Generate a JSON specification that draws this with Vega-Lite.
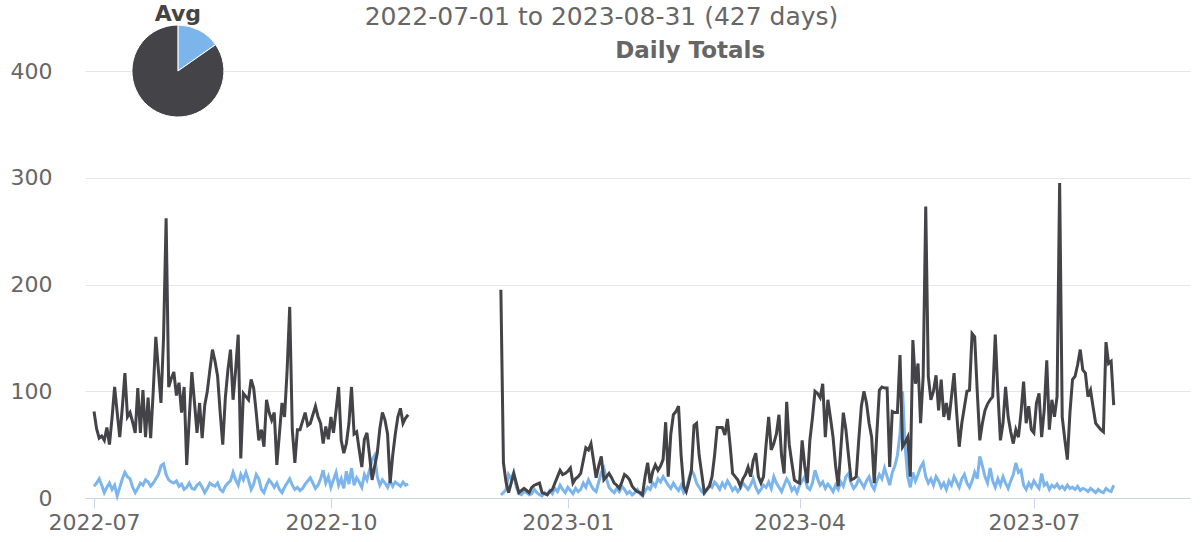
{
 "$schema": "https://vega.github.io/schema/vega-lite/v6.json",
 "width": 1105,
 "height": 427,
 "autosize": {"type": "none"},
 "padding": {"left": 85, "top": 71, "right": 12, "bottom": 44},
 "background": "#ffffff",
 "title": {"text": "2022-07-01 to 2023-08-31 (427 days)", "anchor": "middle", "frame": "group", "dx": -36, "offset": -27, "fontSize": 25, "fontWeight": "normal", "color": "#666666", "font": "DejaVu Sans"},
 "config": {
  "view": {"stroke": null},
  "font": "DejaVu Sans",
  "axisX": {"domainColor": "#ccd6eb", "tickColor": "#ccd6eb", "tickSize": 10, "labelFontSize": 22, "labelColor": "#666666", "labelFont": "DejaVu Sans", "grid": false, "title": null, "labelPadding": 4, "labelFlush": false, "labelOverlap": false},
  "axisY": {"domain": false, "ticks": false, "gridColor": "#e6e6e6", "labelFontSize": 22, "labelColor": "#666666", "labelFont": "DejaVu Sans", "labelPadding": 33, "title": null}
 },
 "datasets": {
  "daily": [
{"d":"2022-07-01","a":81,"b":11},{"d":"2022-07-02","a":65,"b":14},{"d":"2022-07-03","a":56,"b":18},{"d":"2022-07-04","a":58,"b":12},{"d":"2022-07-05","a":54,"b":5},{"d":"2022-07-06","a":66,"b":10},{"d":"2022-07-07","a":50,"b":14},{"d":"2022-07-08","a":75,"b":8},{"d":"2022-07-09","a":104,"b":12},{"d":"2022-07-10","a":80,"b":2},
{"d":"2022-07-11","a":57,"b":10},{"d":"2022-07-12","a":85,"b":18},{"d":"2022-07-13","a":117,"b":24},{"d":"2022-07-14","a":76,"b":20},{"d":"2022-07-15","a":80,"b":18},{"d":"2022-07-16","a":71,"b":10},{"d":"2022-07-17","a":61,"b":5},{"d":"2022-07-18","a":103,"b":9},{"d":"2022-07-19","a":61,"b":14},{"d":"2022-07-20","a":101,"b":12},
{"d":"2022-07-21","a":57,"b":17},{"d":"2022-07-22","a":94,"b":15},{"d":"2022-07-23","a":56,"b":11},{"d":"2022-07-24","a":100,"b":14},{"d":"2022-07-25","a":151,"b":18},{"d":"2022-07-26","a":120,"b":22},{"d":"2022-07-27","a":89,"b":30},{"d":"2022-07-28","a":150,"b":32},{"d":"2022-07-29","a":262,"b":22},{"d":"2022-07-30","a":104,"b":17},{"d":"2022-07-31","a":112,"b":15},
{"d":"2022-08-01","a":118,"b":14},{"d":"2022-08-02","a":96,"b":16},{"d":"2022-08-03","a":108,"b":11},{"d":"2022-08-04","a":80,"b":13},{"d":"2022-08-05","a":104,"b":8},{"d":"2022-08-06","a":31,"b":10},{"d":"2022-08-07","a":75,"b":14},{"d":"2022-08-08","a":118,"b":9},{"d":"2022-08-09","a":90,"b":8},{"d":"2022-08-10","a":61,"b":12},
{"d":"2022-08-11","a":89,"b":14},{"d":"2022-08-12","a":56,"b":10},{"d":"2022-08-13","a":87,"b":5},{"d":"2022-08-14","a":100,"b":9},{"d":"2022-08-15","a":120,"b":14},{"d":"2022-08-16","a":139,"b":12},{"d":"2022-08-17","a":128,"b":11},{"d":"2022-08-18","a":114,"b":14},{"d":"2022-08-19","a":80,"b":8},{"d":"2022-08-20","a":50,"b":6},
{"d":"2022-08-21","a":94,"b":11},{"d":"2022-08-22","a":120,"b":14},{"d":"2022-08-23","a":139,"b":16},{"d":"2022-08-24","a":92,"b":24},{"d":"2022-08-25","a":120,"b":17},{"d":"2022-08-26","a":153,"b":12},{"d":"2022-08-27","a":37,"b":22},{"d":"2022-08-28","a":98,"b":17},{"d":"2022-08-29","a":95,"b":24},{"d":"2022-08-30","a":92,"b":17},{"d":"2022-08-31","a":111,"b":8},
{"d":"2022-09-01","a":103,"b":13},{"d":"2022-09-02","a":80,"b":22},{"d":"2022-09-03","a":54,"b":18},{"d":"2022-09-04","a":64,"b":8},{"d":"2022-09-05","a":48,"b":5},{"d":"2022-09-06","a":92,"b":12},{"d":"2022-09-07","a":80,"b":17},{"d":"2022-09-08","a":73,"b":14},{"d":"2022-09-09","a":80,"b":10},{"d":"2022-09-10","a":31,"b":14},
{"d":"2022-09-11","a":60,"b":8},{"d":"2022-09-12","a":89,"b":5},{"d":"2022-09-13","a":76,"b":10},{"d":"2022-09-14","a":120,"b":14},{"d":"2022-09-15","a":179,"b":18},{"d":"2022-09-16","a":64,"b":12},{"d":"2022-09-17","a":33,"b":8},{"d":"2022-09-18","a":64,"b":10},{"d":"2022-09-19","a":64,"b":7},{"d":"2022-09-20","a":72,"b":9},
{"d":"2022-09-21","a":80,"b":13},{"d":"2022-09-22","a":68,"b":16},{"d":"2022-09-23","a":70,"b":19},{"d":"2022-09-24","a":78,"b":14},{"d":"2022-09-25","a":86,"b":9},{"d":"2022-09-26","a":76,"b":12},{"d":"2022-09-27","a":70,"b":18},{"d":"2022-09-28","a":51,"b":26},{"d":"2022-09-29","a":67,"b":14},{"d":"2022-09-30","a":55,"b":20},
{"d":"2022-10-01","a":76,"b":10},{"d":"2022-10-02","a":61,"b":17},{"d":"2022-10-03","a":82,"b":24},{"d":"2022-10-04","a":104,"b":12},{"d":"2022-10-05","a":54,"b":18},{"d":"2022-10-06","a":42,"b":9},{"d":"2022-10-07","a":51,"b":25},{"d":"2022-10-08","a":70,"b":13},{"d":"2022-10-09","a":104,"b":28},{"d":"2022-10-10","a":60,"b":12},
{"d":"2022-10-11","a":62,"b":19},{"d":"2022-10-12","a":45,"b":15},{"d":"2022-10-13","a":29,"b":10},{"d":"2022-10-14","a":55,"b":22},{"d":"2022-10-15","a":61,"b":17},{"d":"2022-10-16","a":40,"b":26},{"d":"2022-10-17","a":17,"b":36},{"d":"2022-10-18","a":30,"b":40},{"d":"2022-10-19","a":42,"b":20},{"d":"2022-10-20","a":65,"b":12},
{"d":"2022-10-21","a":80,"b":17},{"d":"2022-10-22","a":73,"b":14},{"d":"2022-10-23","a":60,"b":10},{"d":"2022-10-24","a":14,"b":16},{"d":"2022-10-25","a":40,"b":11},{"d":"2022-10-26","a":60,"b":15},{"d":"2022-10-27","a":76,"b":13},{"d":"2022-10-28","a":84,"b":11},{"d":"2022-10-29","a":70,"b":15},{"d":"2022-10-30","a":75,"b":12},{"d":"2022-10-31","a":78,"b":13},
{"d":"2022-11-18","a":null,"b":null},
{"d":"2022-12-06","a":195,"b":3},{"d":"2022-12-07","a":33,"b":5},{"d":"2022-12-08","a":15,"b":8},{"d":"2022-12-09","a":5,"b":22},{"d":"2022-12-10","a":14,"b":18},
{"d":"2022-12-11","a":23,"b":24},{"d":"2022-12-12","a":14,"b":10},{"d":"2022-12-13","a":5,"b":4},{"d":"2022-12-14","a":7,"b":3},{"d":"2022-12-15","a":9,"b":6},{"d":"2022-12-16","a":7,"b":5},{"d":"2022-12-17","a":5,"b":3},{"d":"2022-12-18","a":10,"b":4},{"d":"2022-12-19","a":12,"b":8},{"d":"2022-12-20","a":13,"b":5},
{"d":"2022-12-21","a":14,"b":3},{"d":"2022-12-22","a":5,"b":2},{"d":"2022-12-23","a":4,"b":5},{"d":"2022-12-24","a":3,"b":3},{"d":"2022-12-25","a":6,"b":7},{"d":"2022-12-26","a":8,"b":4},{"d":"2022-12-27","a":14,"b":9},{"d":"2022-12-28","a":20,"b":6},{"d":"2022-12-29","a":26,"b":12},{"d":"2022-12-30","a":22,"b":8},{"d":"2022-12-31","a":23,"b":5},
{"d":"2023-01-01","a":25,"b":10},{"d":"2023-01-02","a":28,"b":7},{"d":"2023-01-03","a":14,"b":4},{"d":"2023-01-04","a":18,"b":9},{"d":"2023-01-05","a":20,"b":6},{"d":"2023-01-06","a":23,"b":8},{"d":"2023-01-07","a":35,"b":14},{"d":"2023-01-08","a":47,"b":10},{"d":"2023-01-09","a":45,"b":17},{"d":"2023-01-10","a":51,"b":12},
{"d":"2023-01-11","a":35,"b":8},{"d":"2023-01-12","a":19,"b":6},{"d":"2023-01-13","a":30,"b":15},{"d":"2023-01-14","a":39,"b":24},{"d":"2023-01-15","a":17,"b":28},{"d":"2023-01-16","a":20,"b":18},{"d":"2023-01-17","a":23,"b":10},{"d":"2023-01-18","a":19,"b":7},{"d":"2023-01-19","a":14,"b":5},{"d":"2023-01-20","a":12,"b":9},
{"d":"2023-01-21","a":9,"b":6},{"d":"2023-01-22","a":15,"b":11},{"d":"2023-01-23","a":22,"b":8},{"d":"2023-01-24","a":20,"b":4},{"d":"2023-01-25","a":17,"b":6},{"d":"2023-01-26","a":11,"b":3},{"d":"2023-01-27","a":8,"b":5},{"d":"2023-01-28","a":6,"b":8},{"d":"2023-01-29","a":5,"b":4},{"d":"2023-01-30","a":3,"b":2},{"d":"2023-01-31","a":20,"b":6},
{"d":"2023-02-01","a":33,"b":10},{"d":"2023-02-02","a":14,"b":8},{"d":"2023-02-03","a":25,"b":14},{"d":"2023-02-04","a":31,"b":11},{"d":"2023-02-05","a":26,"b":18},{"d":"2023-02-06","a":30,"b":15},{"d":"2023-02-07","a":36,"b":20},{"d":"2023-02-08","a":71,"b":16},{"d":"2023-02-09","a":20,"b":12},{"d":"2023-02-10","a":60,"b":9},
{"d":"2023-02-11","a":78,"b":14},{"d":"2023-02-12","a":81,"b":10},{"d":"2023-02-13","a":86,"b":7},{"d":"2023-02-14","a":40,"b":12},{"d":"2023-02-15","a":11,"b":5},{"d":"2023-02-16","a":6,"b":8},{"d":"2023-02-17","a":15,"b":18},{"d":"2023-02-18","a":26,"b":26},{"d":"2023-02-19","a":68,"b":22},{"d":"2023-02-20","a":70,"b":14},
{"d":"2023-02-21","a":40,"b":10},{"d":"2023-02-22","a":23,"b":6},{"d":"2023-02-23","a":5,"b":4},{"d":"2023-02-24","a":8,"b":8},{"d":"2023-02-25","a":11,"b":12},{"d":"2023-02-26","a":20,"b":10},{"d":"2023-02-27","a":40,"b":15},{"d":"2023-02-28","a":66,"b":12},
{"d":"2023-03-01","a":66,"b":8},{"d":"2023-03-02","a":66,"b":14},{"d":"2023-03-03","a":59,"b":10},{"d":"2023-03-04","a":74,"b":16},{"d":"2023-03-05","a":50,"b":12},{"d":"2023-03-06","a":23,"b":7},{"d":"2023-03-07","a":20,"b":10},{"d":"2023-03-08","a":17,"b":6},{"d":"2023-03-09","a":11,"b":9},{"d":"2023-03-10","a":18,"b":14},
{"d":"2023-03-11","a":22,"b":11},{"d":"2023-03-12","a":29,"b":8},{"d":"2023-03-13","a":20,"b":12},{"d":"2023-03-14","a":35,"b":18},{"d":"2023-03-15","a":42,"b":10},{"d":"2023-03-16","a":20,"b":5},{"d":"2023-03-17","a":14,"b":8},{"d":"2023-03-18","a":20,"b":12},{"d":"2023-03-19","a":50,"b":10},{"d":"2023-03-20","a":76,"b":15},
{"d":"2023-03-21","a":45,"b":9},{"d":"2023-03-22","a":51,"b":20},{"d":"2023-03-23","a":60,"b":14},{"d":"2023-03-24","a":78,"b":10},{"d":"2023-03-25","a":40,"b":6},{"d":"2023-03-26","a":23,"b":12},{"d":"2023-03-27","a":90,"b":18},{"d":"2023-03-28","a":50,"b":14},{"d":"2023-03-29","a":33,"b":7},{"d":"2023-03-30","a":17,"b":10},{"d":"2023-03-31","a":15,"b":5},
{"d":"2023-04-01","a":14,"b":12},{"d":"2023-04-02","a":54,"b":16},{"d":"2023-04-03","a":30,"b":20},{"d":"2023-04-04","a":14,"b":10},{"d":"2023-04-05","a":54,"b":8},{"d":"2023-04-06","a":75,"b":14},{"d":"2023-04-07","a":100,"b":26},{"d":"2023-04-08","a":98,"b":18},{"d":"2023-04-09","a":94,"b":12},{"d":"2023-04-10","a":107,"b":15},
{"d":"2023-04-11","a":57,"b":9},{"d":"2023-04-12","a":92,"b":13},{"d":"2023-04-13","a":75,"b":10},{"d":"2023-04-14","a":57,"b":6},{"d":"2023-04-15","a":30,"b":12},{"d":"2023-04-16","a":11,"b":8},{"d":"2023-04-17","a":45,"b":15},{"d":"2023-04-18","a":80,"b":11},{"d":"2023-04-19","a":64,"b":20},{"d":"2023-04-20","a":40,"b":23},
{"d":"2023-04-21","a":17,"b":14},{"d":"2023-04-22","a":18,"b":9},{"d":"2023-04-23","a":20,"b":12},{"d":"2023-04-24","a":55,"b":18},{"d":"2023-04-25","a":86,"b":14},{"d":"2023-04-26","a":100,"b":10},{"d":"2023-04-27","a":89,"b":16},{"d":"2023-04-28","a":70,"b":20},{"d":"2023-04-29","a":57,"b":12},{"d":"2023-04-30","a":14,"b":8},
{"d":"2023-05-01","a":60,"b":16},{"d":"2023-05-02","a":101,"b":22},{"d":"2023-05-03","a":104,"b":18},{"d":"2023-05-04","a":103,"b":28},{"d":"2023-05-05","a":103,"b":20},{"d":"2023-05-06","a":29,"b":12},{"d":"2023-05-07","a":81,"b":24},{"d":"2023-05-08","a":80,"b":30},{"d":"2023-05-09","a":80,"b":40},{"d":"2023-05-10","a":134,"b":60},
{"d":"2023-05-11","a":48,"b":100},{"d":"2023-05-12","a":52,"b":48},{"d":"2023-05-13","a":57,"b":20},{"d":"2023-05-14","a":20,"b":10},{"d":"2023-05-15","a":148,"b":24},{"d":"2023-05-16","a":107,"b":16},{"d":"2023-05-17","a":126,"b":22},{"d":"2023-05-18","a":70,"b":29},{"d":"2023-05-19","a":114,"b":33},{"d":"2023-05-20","a":273,"b":20},
{"d":"2023-05-21","a":114,"b":14},{"d":"2023-05-22","a":92,"b":18},{"d":"2023-05-23","a":100,"b":12},{"d":"2023-05-24","a":115,"b":20},{"d":"2023-05-25","a":82,"b":16},{"d":"2023-05-26","a":111,"b":10},{"d":"2023-05-27","a":76,"b":14},{"d":"2023-05-28","a":89,"b":8},{"d":"2023-05-29","a":73,"b":16},{"d":"2023-05-30","a":95,"b":12},{"d":"2023-05-31","a":117,"b":20},
{"d":"2023-06-01","a":80,"b":15},{"d":"2023-06-02","a":48,"b":10},{"d":"2023-06-03","a":70,"b":18},{"d":"2023-06-04","a":85,"b":22},{"d":"2023-06-05","a":100,"b":14},{"d":"2023-06-06","a":101,"b":10},{"d":"2023-06-07","a":154,"b":16},{"d":"2023-06-08","a":151,"b":24},{"d":"2023-06-09","a":100,"b":18},{"d":"2023-06-10","a":54,"b":39},
{"d":"2023-06-11","a":70,"b":30},{"d":"2023-06-12","a":82,"b":20},{"d":"2023-06-13","a":88,"b":14},{"d":"2023-06-14","a":92,"b":28},{"d":"2023-06-15","a":95,"b":16},{"d":"2023-06-16","a":153,"b":10},{"d":"2023-06-17","a":100,"b":18},{"d":"2023-06-18","a":54,"b":12},{"d":"2023-06-19","a":70,"b":20},{"d":"2023-06-20","a":104,"b":14},
{"d":"2023-06-21","a":76,"b":9},{"d":"2023-06-22","a":62,"b":16},{"d":"2023-06-23","a":51,"b":22},{"d":"2023-06-24","a":64,"b":33},{"d":"2023-06-25","a":57,"b":24},{"d":"2023-06-26","a":80,"b":26},{"d":"2023-06-27","a":109,"b":12},{"d":"2023-06-28","a":70,"b":8},{"d":"2023-06-29","a":86,"b":14},{"d":"2023-06-30","a":64,"b":10},
{"d":"2023-07-01","a":61,"b":16},{"d":"2023-07-02","a":89,"b":12},{"d":"2023-07-03","a":98,"b":9},{"d":"2023-07-04","a":57,"b":23},{"d":"2023-07-05","a":82,"b":12},{"d":"2023-07-06","a":129,"b":14},{"d":"2023-07-07","a":64,"b":8},{"d":"2023-07-08","a":92,"b":12},{"d":"2023-07-09","a":76,"b":10},{"d":"2023-07-10","a":95,"b":13},
{"d":"2023-07-11","a":295,"b":9},{"d":"2023-07-12","a":76,"b":11},{"d":"2023-07-13","a":55,"b":8},{"d":"2023-07-14","a":36,"b":12},{"d":"2023-07-15","a":80,"b":9},{"d":"2023-07-16","a":111,"b":10},{"d":"2023-07-17","a":114,"b":8},{"d":"2023-07-18","a":125,"b":11},{"d":"2023-07-19","a":139,"b":7},{"d":"2023-07-20","a":120,"b":9},
{"d":"2023-07-21","a":117,"b":8},{"d":"2023-07-22","a":95,"b":6},{"d":"2023-07-23","a":101,"b":9},{"d":"2023-07-24","a":85,"b":7},{"d":"2023-07-25","a":70,"b":5},{"d":"2023-07-26","a":67,"b":8},{"d":"2023-07-27","a":64,"b":6},{"d":"2023-07-28","a":62,"b":5},{"d":"2023-07-29","a":146,"b":9},{"d":"2023-07-30","a":126,"b":7},{"d":"2023-07-31","a":128,"b":6},
{"d":"2023-08-01","a":87,"b":12}
  ],
  "pie": [
   {"d": "2022-08-02T14:00:00Z", "v": 400, "key": "b", "avg": 13},
   {"d": "2022-08-02T14:00:00Z", "v": 400, "key": "a", "avg": 72}
  ],
  "labels": [
   {"d": "2022-08-02T14:00:00Z", "v": 400, "label": "Avg"}
  ],
  "subtitle": [
   {"d": "2023-02-17T12:00:00Z", "v": 400, "label": "Daily Totals"}
  ]
 },
 "layer": [
  {
   "data": {"name": "daily"},
   "mark": {"type": "line", "color": "#7cb5ec", "strokeWidth": 3, "invalid": "break-paths-filter-domains"},
   "encoding": {
    "x": {"field": "d", "type": "temporal",
          "scale": {"type": "utc", "domain": [{"year": 2022, "month": 6, "date": 27, "hours": 12, "utc": true}, {"year": 2023, "month": 8, "date": 30, "hours": 15, "utc": true}]},
          "axis": {"labelExpr": "utcFormat(datum.value, '%Y-%m')", "tickCount": {"interval": "month", "step": 3}}},
    "y": {"field": "b", "type": "quantitative", "scale": {"domain": [0, 400]}, "axis": {"values": [0, 100, 200, 300, 400]}}
   }
  },
  {
   "data": {"name": "daily"},
   "mark": {"type": "line", "color": "#434348", "strokeWidth": 3, "invalid": "break-paths-filter-domains"},
   "encoding": {
    "x": {"field": "d", "type": "temporal", "axis": {"labelExpr": "utcFormat(datum.value, '%Y-%m')", "tickCount": {"interval": "month", "step": 3}}},
    "y": {"field": "a", "type": "quantitative", "axis": {"values": [0, 100, 200, 300, 400]}}
   }
  },
  {
   "data": {"name": "pie"},
   "transform": [
    {"stack": "avg", "groupby": [], "sort": [{"field": "key", "order": "descending"}], "as": ["t0", "t1"]}
   ],
   "mark": {"type": "arc", "radius": 46, "stroke": "#ffffff", "strokeWidth": 1},
   "encoding": {
    "x": {"field": "d", "type": "temporal", "axis": {"labelExpr": "utcFormat(datum.value, '%Y-%m')", "tickCount": {"interval": "month", "step": 3}}},
    "y": {"field": "v", "type": "quantitative", "stack": null, "axis": {"values": [0, 100, 200, 300, 400]}},
    "theta": {"field": "t0", "type": "quantitative", "stack": null, "scale": {"domain": [0, 85]}},
    "theta2": {"field": "t1"},
    "color": {"field": "key", "type": "nominal", "scale": {"domain": ["b", "a"], "range": ["#7cb5ec", "#434348"]}, "legend": null}
   }
  },
  {
   "data": {"name": "labels"},
   "mark": {"type": "text", "fontSize": 22, "fontWeight": "bold", "color": "#444444", "dy": -57, "font": "DejaVu Sans"},
   "encoding": {
    "x": {"field": "d", "type": "temporal", "axis": {"labelExpr": "utcFormat(datum.value, '%Y-%m')", "tickCount": {"interval": "month", "step": 3}}},
    "y": {"field": "v", "type": "quantitative", "stack": null, "axis": {"values": [0, 100, 200, 300, 400]}},
    "text": {"field": "label"}
   }
  },
  {
   "data": {"name": "subtitle"},
   "mark": {"type": "text", "fontSize": 23, "fontWeight": "bold", "color": "#666666", "dy": -20, "font": "DejaVu Sans"},
   "encoding": {
    "x": {"field": "d", "type": "temporal", "axis": {"labelExpr": "utcFormat(datum.value, '%Y-%m')", "tickCount": {"interval": "month", "step": 3}}},
    "y": {"field": "v", "type": "quantitative", "stack": null, "axis": {"values": [0, 100, 200, 300, 400]}},
    "text": {"field": "label"}
   }
  }
 ]
}
